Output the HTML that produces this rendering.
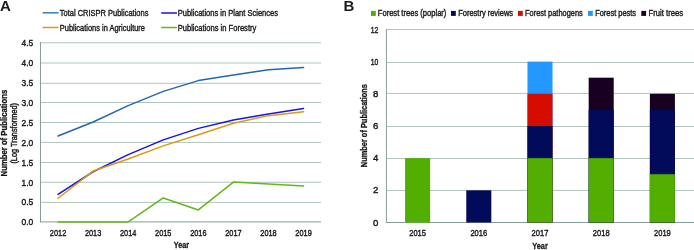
<!DOCTYPE html>
<html><head><meta charset="utf-8"><style>
html,body{margin:0;padding:0;background:#fff;}
body{width:694px;height:250px;overflow:hidden;position:relative;}
svg{position:absolute;left:0;top:0;display:block;will-change:transform;}
text{font-family:"Liberation Sans", sans-serif;fill:#1a1a1a;}
.t{stroke:#1a1a1a;stroke-width:0.42px;}
.b{stroke:#111;stroke-width:0.3px;}
</style></head><body>
<svg width="694" height="250" viewBox="0 0 694 250">
<text x="0.0" y="11.1" font-size="15" font-weight="bold" fill="#000">A</text>
<line x1="40.5" y1="202.4" x2="321.1" y2="202.4" stroke="#b0c4bd" stroke-width="1"/>
<line x1="40.5" y1="182.25" x2="321.1" y2="182.25" stroke="#b0c4bd" stroke-width="1"/>
<line x1="40.5" y1="162.5" x2="321.1" y2="162.5" stroke="#b0c4bd" stroke-width="1"/>
<line x1="40.5" y1="142.4" x2="321.1" y2="142.4" stroke="#b0c4bd" stroke-width="1"/>
<line x1="40.5" y1="122.5" x2="321.1" y2="122.5" stroke="#b0c4bd" stroke-width="1"/>
<line x1="40.5" y1="102.5" x2="321.1" y2="102.5" stroke="#b0c4bd" stroke-width="1"/>
<line x1="40.5" y1="83.3" x2="321.1" y2="83.3" stroke="#b0c4bd" stroke-width="1"/>
<line x1="40.5" y1="63" x2="321.1" y2="63" stroke="#b0c4bd" stroke-width="1"/>
<line x1="40.5" y1="42.8" x2="321.1" y2="42.8" stroke="#b0c4bd" stroke-width="1"/>
<line x1="40.5" y1="42.1" x2="40.5" y2="222.4" stroke="#849f97" stroke-width="1"/>
<line x1="40.5" y1="221.9" x2="321.1" y2="221.9" stroke="#849f97" stroke-width="1"/>
<text x="33.2" y="225.3" font-size="9.4" text-anchor="end" textLength="11.7" lengthAdjust="spacingAndGlyphs" class="t">0.0</text>
<text x="33.2" y="205.4" font-size="9.4" text-anchor="end" textLength="11.7" lengthAdjust="spacingAndGlyphs" class="t">0.5</text>
<text x="33.2" y="185.5" font-size="9.4" text-anchor="end" textLength="11.7" lengthAdjust="spacingAndGlyphs" class="t">1.0</text>
<text x="33.2" y="165.6" font-size="9.4" text-anchor="end" textLength="11.7" lengthAdjust="spacingAndGlyphs" class="t">1.5</text>
<text x="33.2" y="145.7" font-size="9.4" text-anchor="end" textLength="11.7" lengthAdjust="spacingAndGlyphs" class="t">2.0</text>
<text x="33.2" y="125.8" font-size="9.4" text-anchor="end" textLength="11.7" lengthAdjust="spacingAndGlyphs" class="t">2.5</text>
<text x="33.2" y="105.9" font-size="9.4" text-anchor="end" textLength="11.7" lengthAdjust="spacingAndGlyphs" class="t">3.0</text>
<text x="33.2" y="86.0" font-size="9.4" text-anchor="end" textLength="11.7" lengthAdjust="spacingAndGlyphs" class="t">3.5</text>
<text x="33.2" y="66.1" font-size="9.4" text-anchor="end" textLength="11.7" lengthAdjust="spacingAndGlyphs" class="t">4.0</text>
<text x="33.2" y="46.2" font-size="9.4" text-anchor="end" textLength="11.7" lengthAdjust="spacingAndGlyphs" class="t">4.5</text>
<text x="58.04" y="236.4" font-size="9.6" text-anchor="middle" textLength="16.4" lengthAdjust="spacingAndGlyphs" class="t">2012</text>
<text x="93.11" y="236.4" font-size="9.6" text-anchor="middle" textLength="16.4" lengthAdjust="spacingAndGlyphs" class="t">2013</text>
<text x="128.19" y="236.4" font-size="9.6" text-anchor="middle" textLength="16.4" lengthAdjust="spacingAndGlyphs" class="t">2014</text>
<text x="163.26" y="236.4" font-size="9.6" text-anchor="middle" textLength="16.4" lengthAdjust="spacingAndGlyphs" class="t">2015</text>
<text x="198.34" y="236.4" font-size="9.6" text-anchor="middle" textLength="16.4" lengthAdjust="spacingAndGlyphs" class="t">2016</text>
<text x="233.41" y="236.4" font-size="9.6" text-anchor="middle" textLength="16.4" lengthAdjust="spacingAndGlyphs" class="t">2017</text>
<text x="268.49" y="236.4" font-size="9.6" text-anchor="middle" textLength="16.4" lengthAdjust="spacingAndGlyphs" class="t">2018</text>
<text x="303.56" y="236.4" font-size="9.6" text-anchor="middle" textLength="16.4" lengthAdjust="spacingAndGlyphs" class="t">2019</text>
<text x="181.4" y="248.3" font-size="9" font-weight="bold" text-anchor="middle" textLength="15.2" lengthAdjust="spacingAndGlyphs" class="b">Year</text>
<text x="7.1" y="133.1" font-size="8.6" font-weight="bold" text-anchor="middle" textLength="86.6" lengthAdjust="spacingAndGlyphs" transform="rotate(-90 7.1 133.1)" class="b">Number of Publications</text>
<text x="17.2" y="133.3" font-size="8.6" text-anchor="middle" textLength="60.6" lengthAdjust="spacingAndGlyphs" transform="rotate(-90 17.2 133.3)" class="t">(Log Transformed)</text>
<polyline points="58.04,135.93 93.11,122.00 128.19,105.68 163.26,91.36 198.34,80.61 233.41,75.04 268.49,69.86 303.56,67.48" fill="none" stroke="#2466b0" stroke-width="1.5" stroke-linejoin="round" stroke-linecap="round"/>
<polyline points="58.04,194.44 93.11,171.75 128.19,154.64 163.26,139.91 198.34,128.37 233.41,120.01 268.49,114.04 303.56,108.47" fill="none" stroke="#1414e6" stroke-width="1.5" stroke-linejoin="round" stroke-linecap="round"/>
<polyline points="58.04,198.22 93.11,171.08 128.19,159.02 163.26,145.88 198.34,134.74 233.41,123.20 268.49,115.63 303.56,111.65" fill="none" stroke="#dc9a12" stroke-width="1.5" stroke-linejoin="round" stroke-linecap="round"/>
<polyline points="58.04,221.90 93.11,221.90 128.19,221.90 163.26,197.94 198.34,209.92 233.41,182.10 268.49,183.93 303.56,185.96" fill="none" stroke="#62b81a" stroke-width="1.5" stroke-linejoin="round" stroke-linecap="round"/>
<line x1="42.6" y1="12.8" x2="58.6" y2="12.8" stroke="#3f86be" stroke-width="1.6"/>
<text x="59.8" y="15.7" font-size="9.5" textLength="88.6" lengthAdjust="spacingAndGlyphs" class="t">Total CRISPR Publications</text>
<line x1="42.6" y1="27.5" x2="58.6" y2="27.5" stroke="#dc9a12" stroke-width="1.5"/>
<text x="59.8" y="30.6" font-size="9.5" textLength="85.2" lengthAdjust="spacingAndGlyphs" class="t">Publications in Agriculture</text>
<line x1="161.2" y1="13" x2="177" y2="13" stroke="#1414e6" stroke-width="1.5"/>
<text x="177.7" y="15.7" font-size="9.5" textLength="100.3" lengthAdjust="spacingAndGlyphs" class="t">Publications in Plant Sciences</text>
<line x1="161.2" y1="27.5" x2="177" y2="27.5" stroke="#62b81a" stroke-width="1.5"/>
<text x="177.7" y="30.6" font-size="9.5" textLength="78.6" lengthAdjust="spacingAndGlyphs" class="t">Publications in Forestry</text>
<text x="343.6" y="11.1" font-size="15" font-weight="bold" fill="#000">B</text>
<line x1="386.4" y1="190.4" x2="694" y2="190.4" stroke="#b0c4bd" stroke-width="1"/>
<line x1="386.4" y1="158.5" x2="694" y2="158.5" stroke="#b0c4bd" stroke-width="1"/>
<line x1="386.4" y1="126.5" x2="694" y2="126.5" stroke="#b0c4bd" stroke-width="1"/>
<line x1="386.4" y1="93.4" x2="694" y2="93.4" stroke="#b0c4bd" stroke-width="1"/>
<line x1="386.4" y1="62.5" x2="694" y2="62.5" stroke="#b0c4bd" stroke-width="1"/>
<line x1="386.4" y1="29.5" x2="694" y2="29.5" stroke="#b0c4bd" stroke-width="1"/>
<line x1="386.4" y1="28.9" x2="386.4" y2="223" stroke="#849f97" stroke-width="1"/>
<line x1="386.4" y1="222.5" x2="694" y2="222.5" stroke="#849f97" stroke-width="1"/>
<text x="378.4" y="225.6" font-size="9.6" text-anchor="end" class="t">0</text>
<text x="378.4" y="193.42" font-size="9.6" text-anchor="end" class="t">2</text>
<text x="378.4" y="161.24" font-size="9.6" text-anchor="end" class="t">4</text>
<text x="378.4" y="129.06" font-size="9.6" text-anchor="end" class="t">6</text>
<text x="378.4" y="96.88" font-size="9.6" text-anchor="end" class="t">8</text>
<text x="378.4" y="64.7" font-size="9.6" text-anchor="end" textLength="7.6" lengthAdjust="spacingAndGlyphs" class="t">10</text>
<text x="378.4" y="32.52" font-size="9.6" text-anchor="end" textLength="7.6" lengthAdjust="spacingAndGlyphs" class="t">12</text>
<rect x="405.07" y="158.14" width="25.05" height="64.36" fill="#52ae00"/>
<rect x="466.27" y="190.32" width="25.05" height="32.18" fill="#020b5a"/>
<rect x="527.47" y="61.6" width="25.05" height="160.9" fill="#2398fe"/>
<rect x="527.47" y="93.78" width="25.05" height="128.72" fill="#d70c00"/>
<rect x="527.47" y="125.96" width="25.05" height="96.54" fill="#020b5a"/>
<rect x="527.47" y="158.14" width="25.05" height="64.36" fill="#52ae00"/>
<rect x="588.67" y="77.69" width="25.05" height="144.81" fill="#170020"/>
<rect x="588.67" y="109.87" width="25.05" height="112.63" fill="#020b5a"/>
<rect x="588.67" y="158.14" width="25.05" height="64.36" fill="#52ae00"/>
<rect x="649.87" y="93.78" width="25.05" height="128.72" fill="#170020"/>
<rect x="649.87" y="109.87" width="25.05" height="112.63" fill="#020b5a"/>
<rect x="649.87" y="174.23" width="25.05" height="48.27" fill="#52ae00"/>
<text x="417.6" y="236.3" font-size="9.6" text-anchor="middle" textLength="16.8" lengthAdjust="spacingAndGlyphs" class="t">2015</text>
<text x="478.8" y="236.3" font-size="9.6" text-anchor="middle" textLength="16.8" lengthAdjust="spacingAndGlyphs" class="t">2016</text>
<text x="540.0" y="236.3" font-size="9.6" text-anchor="middle" textLength="16.8" lengthAdjust="spacingAndGlyphs" class="t">2017</text>
<text x="601.2" y="236.3" font-size="9.6" text-anchor="middle" textLength="16.8" lengthAdjust="spacingAndGlyphs" class="t">2018</text>
<text x="662.4" y="236.3" font-size="9.6" text-anchor="middle" textLength="16.8" lengthAdjust="spacingAndGlyphs" class="t">2019</text>
<text x="540.0" y="249.1" font-size="9.8" font-weight="bold" text-anchor="middle" textLength="15.6" lengthAdjust="spacingAndGlyphs" class="b">Year</text>
<text x="367.1" y="125.6" font-size="8.6" font-weight="bold" text-anchor="middle" textLength="83.2" lengthAdjust="spacingAndGlyphs" transform="rotate(-90 367.1 125.6)" class="b">Number of Publications</text>
<rect x="371" y="10.9" width="4.8" height="5" fill="#52ae00"/>
<text x="377.8" y="16.1" font-size="9.3" textLength="68.6" lengthAdjust="spacingAndGlyphs" class="t">Forest trees (poplar)</text>
<rect x="451" y="10.9" width="4.8" height="5" fill="#020b5a"/>
<text x="458.2" y="16.1" font-size="9.3" textLength="54.9" lengthAdjust="spacingAndGlyphs" class="t">Forestry reviews</text>
<rect x="518" y="10.9" width="4.8" height="5" fill="#d70c00"/>
<text x="525.1" y="16.1" font-size="9.3" textLength="57.6" lengthAdjust="spacingAndGlyphs" class="t">Forest pathogens</text>
<rect x="588" y="10.9" width="4.8" height="5" fill="#2398fe"/>
<text x="595.2" y="16.1" font-size="9.3" textLength="40.9" lengthAdjust="spacingAndGlyphs" class="t">Forest pests</text>
<rect x="641.3" y="10.9" width="4.8" height="5" fill="#170020"/>
<text x="648.5" y="16.1" font-size="9.3" textLength="34.6" lengthAdjust="spacingAndGlyphs" class="t">Fruit trees</text>
</svg>
</body></html>
